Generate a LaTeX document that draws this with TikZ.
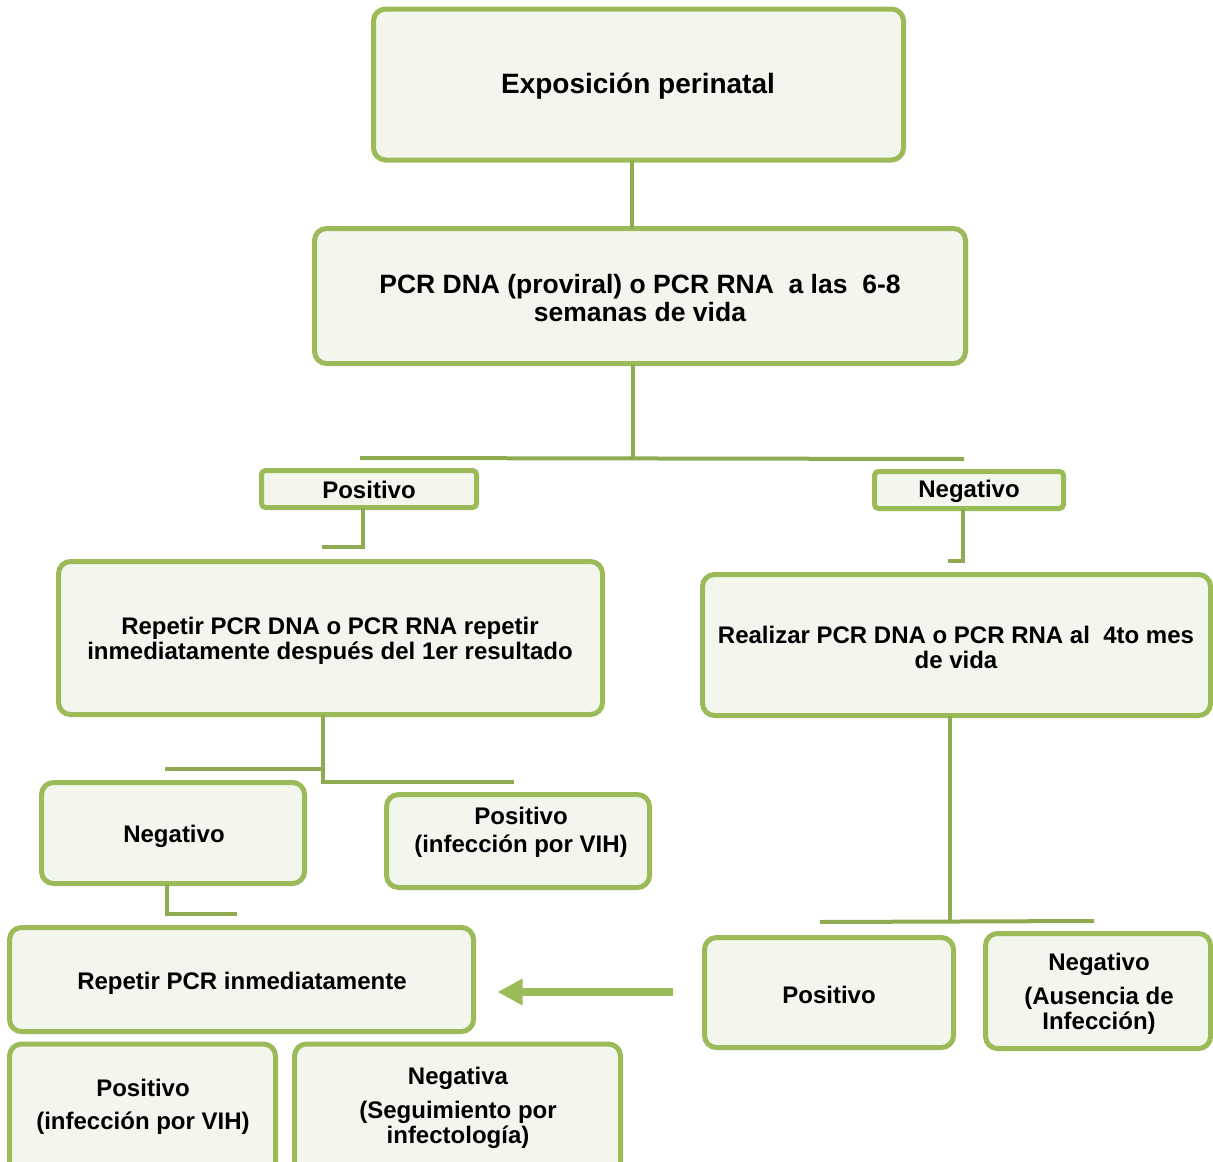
\documentclass[tikz,border=0pt]{standalone}
\usepackage{fontspec}
\setmainfont{Liberation Sans}
\usetikzlibrary{arrows.meta}
\definecolor{gborder}{HTML}{9BBB59}
\definecolor{gfill}{HTML}{F3F6EC}
\definecolor{gline}{HTML}{8EAB52}
\begin{document}
\begin{tikzpicture}[x=1pt,y=-1pt,
  box/.style={draw=gborder, fill=gfill, line width=5pt, rounded corners=12pt, inner sep=0pt},
  txt/.style={font=\fontsize{24}{25}\selectfont\bfseries, align=center, inner sep=0pt, yshift=-2pt},
  conn/.style={draw=gline, line width=4pt}]
\useasboundingbox (0,0) rectangle (1213,1162);
% coordinates for free connector ends
\coordinate (h1L) at (360,458);
\coordinate (h1R) at (964,459);
\coordinate (p1) at (322,547);
\coordinate (n1) at (948,561);
\coordinate (q1) at (165,769);
\coordinate (q2) at (514,782);
\coordinate (r1) at (237,914);
\coordinate (s1) at (820,922);
\coordinate (s2) at (1094,921);
% boxes
\node[box, minimum width=530, minimum height=151] (b1) at (638.5,84.5) {};
\node[box, minimum width=651, minimum height=135] (b2) at (640,296) {};
\node[box, minimum width=215, minimum height=37, rounded corners=4pt] (pos) at (369,489) {};
\node[box, minimum width=189, minimum height=37, rounded corners=4pt] (neg) at (969,490) {};
\node[box, minimum width=544, minimum height=153] (b5) at (330.5,638) {};
\node[box, minimum width=508, minimum height=141] (b6) at (956.5,645) {};
\node[box, minimum width=263, minimum height=101] (b7) at (173,833) {};
\node[box, minimum width=263, minimum height=93] (b8) at (518,841) {};
\node[box, minimum width=464, minimum height=104] (b9) at (241.5,979.5) {};
\node[box, minimum width=266, minimum height=140] (b10) at (142.5,1114) {};
\node[box, minimum width=326, minimum height=140] (b11) at (457.5,1114) {};
\node[box, minimum width=249, minimum height=110] (b12) at (829,992.5) {};
\node[box, minimum width=225, minimum height=115] (b13) at (1098,991) {};
% connector anchor points
\coordinate (b5s) at ([xshift=-7.5pt]b5.south);
% connectors
\draw[conn] ([xshift=-6.5pt,yshift=2.5pt]b1.south) -- ([xshift=-6.5pt,yshift=-2.5pt]b1.south |- b2.north);
\draw[conn] ([xshift=-7pt,yshift=2.5pt]b2.south) -- ([xshift=-7pt]b2.south |- h1R);
\draw[conn] (h1L) -- (h1R);
\draw[conn] ([xshift=-6pt,yshift=2.5pt]pos.south) |- (p1);
\draw[conn] ([xshift=-6pt,yshift=2.5pt]neg.south) |- (n1);
\draw[conn] ([yshift=2.5pt]b5s) |- (q2);
\draw[conn] (q1) -- (q1 -| b5s);
\draw[conn] ([xshift=-6pt,yshift=2.5pt]b7.south) |- (r1);
\draw[conn] ([xshift=-6.5pt,yshift=2.5pt]b6.south) -- ([xshift=-6.5pt]b6.south |- s1);
\draw[conn] (s1) -- (s2);
\draw[draw=gborder, line width=8pt, shorten <=29.5pt, shorten >=21.5pt,
  -{Triangle[length=25pt 0, width=25pt 0]}]
  ([yshift=0.5pt]b12.west) -- ([yshift=0.5pt]b12.west -| b9.east);
% texts
\node[txt, font=\fontsize{28}{30}\selectfont\bfseries] (t1) at (638,84) {Exposición perinatal};
\node[txt, font=\fontsize{26.5}{28}\selectfont\bfseries] (t2) at (640,296) {PCR DNA (proviral) o PCR RNA\ \ a las\ \ 6-8\\semanas de vida};
\node[txt] (t3) at (369,488) {Positivo};
\node[txt] (t4) at (969,489) {Negativo};
\node[txt] (t5) at (330,638.5) {Repetir PCR DNA o PCR RNA repetir\\inmediatamente después del 1er resultado};
\node[txt] (t6) at (956,645.5) {Realizar PCR DNA o PCR RNA al\ \ 4to mes\\de vida};
\node[txt] (t7) at (174,834) {Negativo};
\node[txt] (t8) at (521,830) {Positivo\\[3pt](infección por VIH)};
\node[txt] (t9) at (242,981) {Repetir PCR inmediatamente};
\node[txt] (t10) at (143,1104.5) {Positivo\\[8pt](infección por VIH)};
\node[txt] (t11) at (458,1105.5) {Negativa\\[9pt](Seguimiento por\\infectología)};
\node[txt] (t12) at (829,993) {Positivo};
\node[txt] (t13) at (1099,991.5) {Negativo\\[9pt](Ausencia de\\Infección)};
\end{tikzpicture}
\end{document}
